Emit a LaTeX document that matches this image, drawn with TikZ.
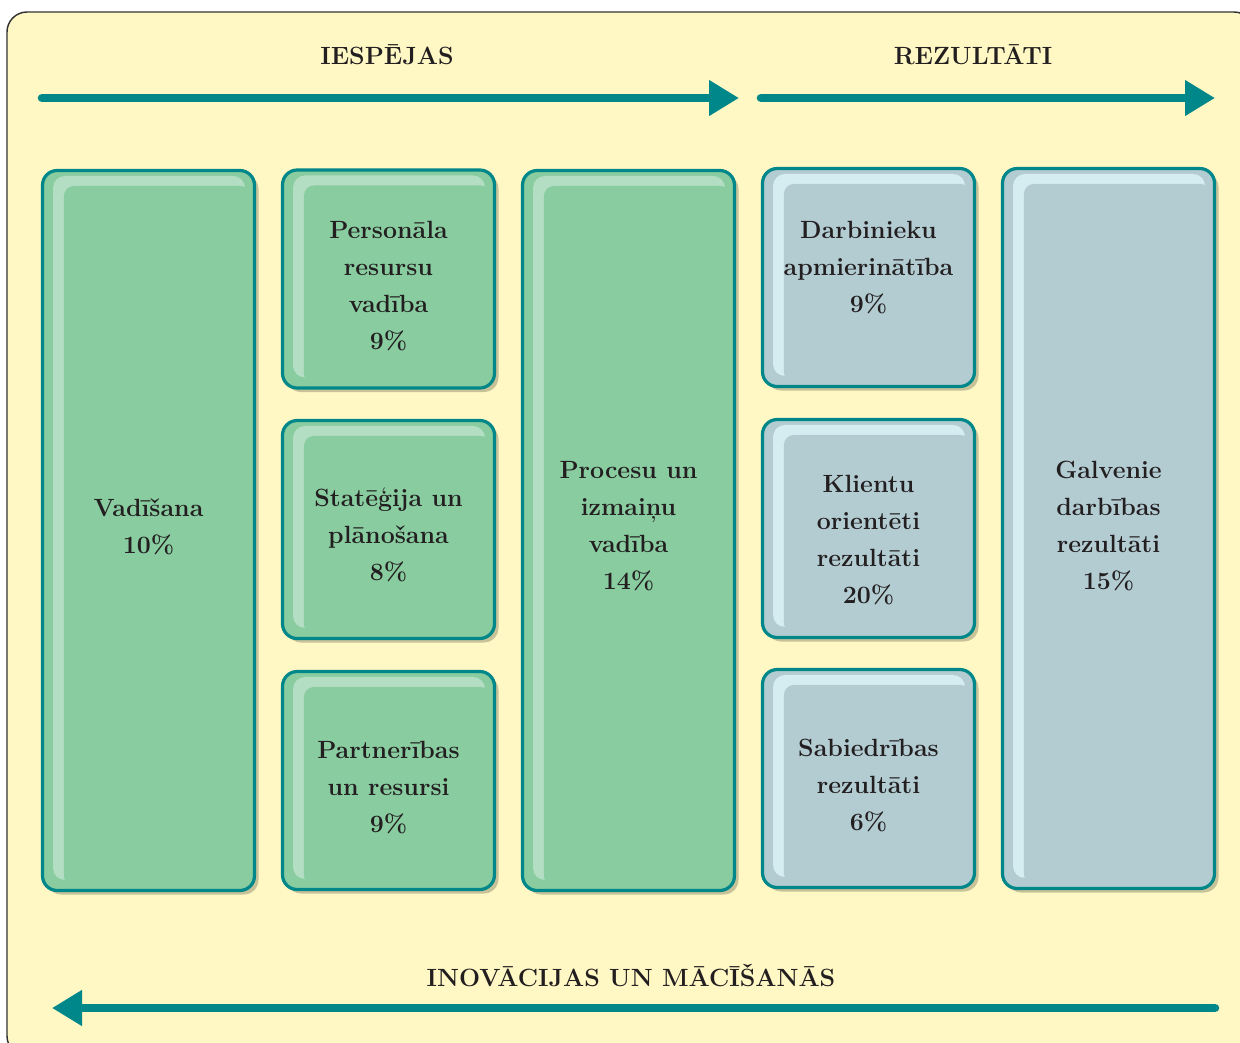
\documentclass[tikz,border=0pt]{standalone}
\usetikzlibrary{arrows.meta}
\definecolor{bgc}{HTML}{FFF8C5}
\definecolor{tealc}{HTML}{00878A}
\definecolor{greenc}{HTML}{88CCA0}
\definecolor{greenhl}{HTML}{B4DEC3}
\definecolor{bluec}{HTML}{B2CCD2}
\definecolor{bluehl}{HTML}{D5ECF0}
\definecolor{shadowc}{HTML}{C7C298}
\definecolor{framec}{HTML}{333333}
\definecolor{textc}{HTML}{231F20}
\begin{document}
\begin{tikzpicture}[x=0.75pt,y=-0.75pt,
  boxbase/.style={draw=tealc, line width=2.4pt, rounded corners=11pt,
    inner sep=0pt, minimum width=159pt,
    preaction={fill=shadowc, transform canvas={xshift=3pt,yshift=-3pt}}},
  hlpic/.style 2 args={fill=#1, path picture={
    \fill[#2, rounded corners=9pt]
      ([shift={(7.9pt,-4.1pt)}]path picture bounding box.north west)
      rectangle ([shift={(-7.1pt,7.9pt)}]path picture bounding box.south east);
    \fill[#1, rounded corners=7.5pt]
      ([shift={(16.1pt,-11.6pt)}]path picture bounding box.north west)
      rectangle ([shift={(-3pt,3pt)}]path picture bounding box.south east);
  }},
  gbox/.style={boxbase, hlpic={greenc}{greenhl}},
  bbox/.style={boxbase, hlpic={bluec}{bluehl}},
  tall/.style={minimum height=540pt},
  short/.style={minimum height=163.5pt},
  lbl/.style={align=center, inner sep=0pt, text=textc,
    font=\bfseries\fontsize{18.7pt}{27.75pt}\selectfont},
  arr/.style={draw=tealc, line width=6.4pt, line cap=round,
    -{Triangle[length=22.5pt,width=25.5pt]}}
]
\useasboundingbox (0,0) rectangle (1240,1043);
\begin{scope}
\clip (0,0) rectangle (1240,1043);
\fill[white] (0,0) rectangle (1240,1043);
\draw[framec, line width=1.1pt, fill=bgc, rounded corners=15pt] (7,12) rectangle (1254,1056);
\end{scope}

% titles
\node[lbl] (tI) at (387,55) {IESPĒJAS};
\node[lbl] (tR) at (973,55) {REZULTĀTI};
\node[lbl] (tN) at (631,975) {INOVĀCIJAS UN MĀCĪŠANĀS};

% arrows
\coordinate (a1s) at (42,98);
\coordinate (a1e) at (739,98);
\coordinate (a2s) at (761,98);
\coordinate (a2e) at (1215,98);
\coordinate (a3s) at (1215,1008);
\coordinate (a3e) at (52,1008);
\draw[arr] (a1s) -- (a1e);
\draw[arr] (a2s) -- (a2e);
\draw[arr] (a3s) -- (a3e);

% boxes
\node[gbox, tall]  (b1)  at (148.5,530.5) {};
\node[gbox, short] (b2a) at (388.5,279) {};
\node[gbox, short] (b2b) at (388.5,529.5) {};
\node[gbox, short] (b2c) at (388.5,780.5) {};
\node[gbox, tall]  (b3)  at (628.5,530.5) {};
\node[bbox, short] (b4a) at (868.5,277.5) {};
\node[bbox, short] (b4b) at (868.5,528.5) {};
\node[bbox, short] (b4c) at (868.5,778.5) {};
\node[bbox, tall]  (b5)  at (1108.5,528.5) {};

% labels
\node[lbl] (l1)  at (148.5,526.5) {Vadīšana\\10\%};
\node[lbl] (l2a) at (388.5,286.5) {Personāla\\resursu\\vadība\\9\%};
\node[lbl] (l2b) at (388.5,534.5) {Statēģija un\\plānošana\\8\%};
\node[lbl] (l2c) at (388.5,787.5) {Partnerības\\un resursi\\9\%};
\node[lbl] (l3)  at (628.5,526) {Procesu un\\izmaiņu\\vadība\\14\%};
\node[lbl] (l4a) at (868.5,268) {Darbinieku\\apmierinātība\\9\%};
\node[lbl] (l4b) at (868.5,540) {Klientu\\orientēti\\rezultāti\\20\%};
\node[lbl] (l4c) at (868.5,785) {Sabiedrības\\rezultāti\\6\%};
\node[lbl] (l5)  at (1108.5,526) {Galvenie\\darbības\\rezultāti\\15\%};
\end{tikzpicture}
\end{document}
